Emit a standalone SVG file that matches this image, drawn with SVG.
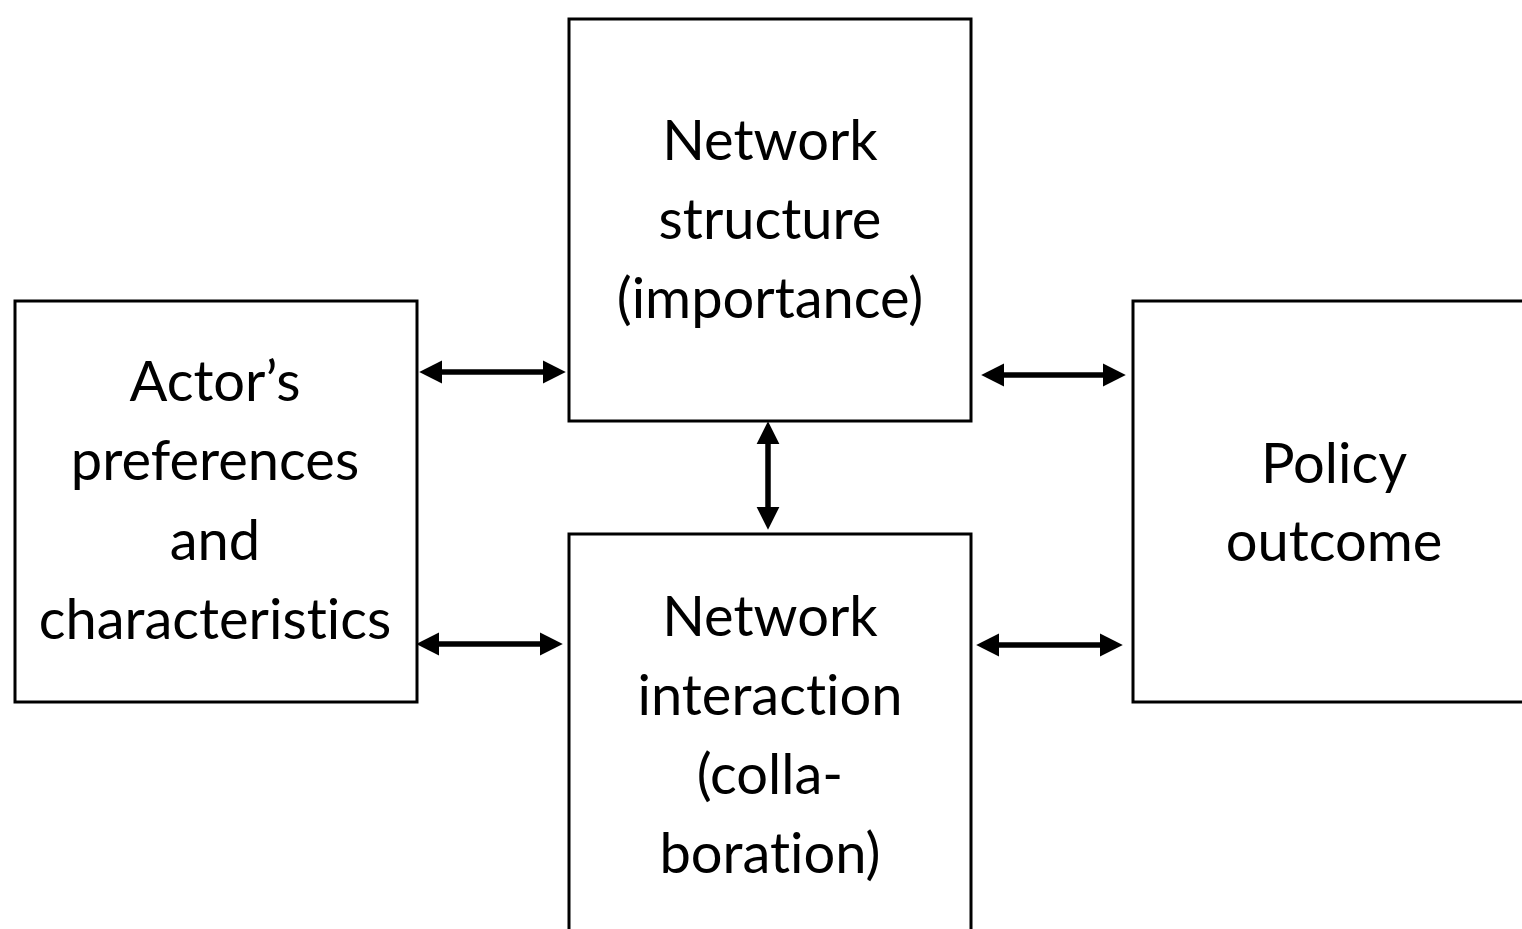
<svg xmlns="http://www.w3.org/2000/svg" width="1522" height="929" viewBox="0 0 1522 929">
<style>
.box{fill:#fff;stroke:#000;stroke-width:3}
.t{font-family:Lato,"Open Sans","Liberation Sans",sans-serif;font-size:56px;fill:#000;text-anchor:middle;font-variant-ligatures:none}
.c{stroke:#000;stroke-width:5.5;fill:none;marker-start:url(#ah);marker-end:url(#ah)}
</style>
<defs>
<marker id="ah" viewBox="0 0 10 10" refX="1" refY="5" markerWidth="4.2" markerHeight="4.4" orient="auto-start-reverse" markerUnits="strokeWidth">
<path d="M0,0 L10,5 L0,10 z" fill="#000"/>
</marker>
</defs>
<rect width="1522" height="929" fill="#fff"/>
<g id="actor">
<rect class="box" x="15" y="301" width="402" height="401"/>
<text class="t" x="215" y="401">Actor’s</text>
<text class="t" x="215" y="480">preferences</text>
<text class="t" x="215" y="560">and</text>
<text class="t" x="215" y="639">characteristics</text>
</g>
<g id="structure">
<rect class="box" x="569" y="19" width="402" height="402"/>
<text class="t" x="770" y="160">Network</text>
<text class="t" x="770" y="239">structure</text>
<text class="t" x="770" y="318">(importance)</text>
</g>
<g id="interaction">
<rect class="box" x="569" y="534" width="402" height="420"/>
<text class="t" x="770" y="636">Network</text>
<text class="t" x="770" y="715">interaction</text>
<text class="t" x="770" y="794">(colla-</text>
<text class="t" x="770" y="873">boration)</text>
</g>
<g id="outcome">
<rect class="box" x="1133" y="301" width="420" height="401"/>
<text class="t" x="1334" y="483">Policy</text>
<text class="t" x="1334" y="561">outcome</text>
</g>
<g id="connectors">
<line class="c" x1="440" y1="372" x2="545" y2="372"/>
<line class="c" x1="437" y1="644" x2="542" y2="644"/>
<line class="c" x1="1002" y1="375" x2="1105" y2="375"/>
<line class="c" x1="997" y1="645" x2="1102" y2="645"/>
<line class="c" x1="768" y1="442" x2="768" y2="509"/>
</g>
</svg>
